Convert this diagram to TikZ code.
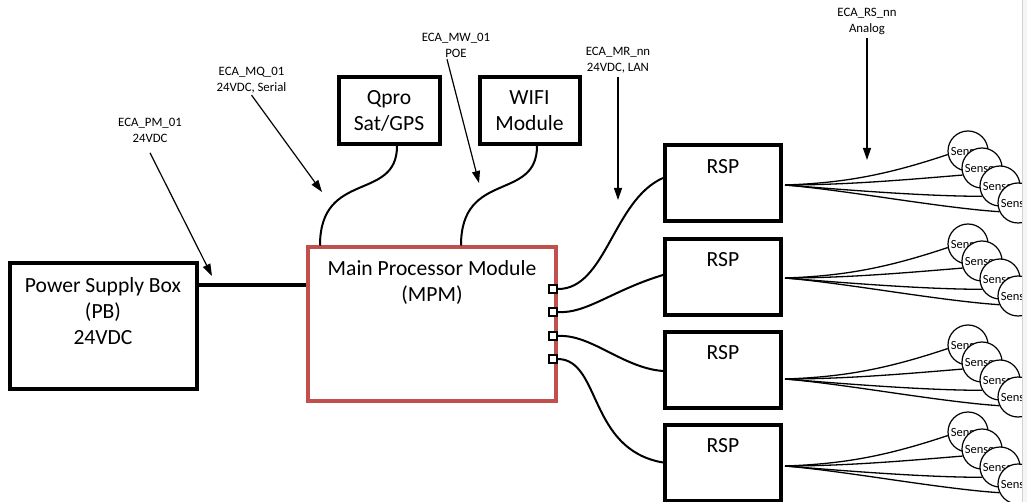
\documentclass[tikz,border=0pt]{standalone}
\usepackage{fontspec}
\setmainfont{Carlito}
\usetikzlibrary{arrows.meta,calc,backgrounds}
\definecolor{mpmred}{HTML}{C0504D}
\begin{document}
\begin{tikzpicture}[x=1pt,y=-1pt,
  box/.style={draw=black, line width=4pt, fill=white, inner sep=0pt},
  bigtxt/.style={font=\fontsize{21.6}{26}\selectfont, align=center, inner sep=0pt},
  tag/.style={font=\fontsize{12.8}{15.8}\selectfont, align=center, inner sep=0pt},
  sensor/.style={circle, draw, line width=1.2pt, fill=white, minimum size=40pt,
    inner sep=0pt, font=\fontsize{12.5}{14}\selectfont},
  port/.style={draw, line width=1.7pt, fill=white, minimum size=8.5pt, inner sep=0pt},
  wire/.style={line width=2pt},
  power/.style={line width=4pt},
  fan/.style={line width=1.3pt},
  callout/.style={line width=1.2pt, -{Triangle[length=12pt,width=8pt]}},
]
\useasboundingbox (0,0) rectangle (1027,502);

% main boxes
\node[box, minimum width=187.5pt, minimum height=126pt] (psb) at (103.25,326) {};
\node[bigtxt] (psbt) at (103,311) {Power Supply Box\\(PB)\\24VDC};

\node[box, draw=mpmred, minimum width=248pt, minimum height=153pt] (mpm) at (431.5,324) {};
\node[bigtxt, font=\fontsize{21.6}{25}\selectfont] (mpmt) at (432,282.5) {Main Processor Module\\(MPM)};

\node[box, bigtxt, draw, line width=4pt, minimum width=101pt, minimum height=67pt] (qpro) at (389,110.5) {Qpro\\Sat/GPS};
\node[box, bigtxt, draw, line width=4pt, minimum width=100pt, minimum height=67pt] (wifi) at (529.5,110.5) {WIFI\\Module};

% remote signal processors
\foreach \i/\cy in {1/183.5, 2/277, 3/370, 4/462.5}{
  \node[box, minimum width=116pt, minimum height=76pt] (r\i) at (723,\cy) {};
  \node[bigtxt] (r\i t) at ($(r\i.north)+(0,23)$) {RSP};
}

% MPM output ports
\foreach \i/\py in {1/289, 2/312, 3/336, 4/359}{
  \node[port] (p\i) at (553,\py) {};
}

% power feed
\coordinate (pwr) at (0,285);
\draw[power] (psb.east |- pwr) -- (mpm.west |- pwr);

% links from the modules into the MPM
\draw[wire] ([xshift=8pt]qpro.south) .. controls +(0,56) and +(0,-76) .. ([xshift=14.5pt]mpm.north west);
\draw[wire] ([xshift=7.5pt]wifi.south) .. controls +(0,56) and +(0,-76) .. ([xshift=155.5pt]mpm.north west);

% links from the ports to the RSPs
\draw[wire] (p1.east) .. controls +(48,0) and +(-50,22) .. ([yshift=5.5pt]r1.west);
\draw[wire] (p2.east) .. controls +(28,2) and +(-50,15) .. ([yshift=2pt]r2.west);
\draw[wire] (p3.east) .. controls +(33,-2) and +(-40,-3) .. ([yshift=-1pt]r3.west);
\draw[wire] (p4.east) .. controls +(43,1) and +(-75,-13) .. (r4.west);

% sensor fans
\foreach \i/\dy in {1/1.5, 2/1, 3/9, 4/3.5}{
  \coordinate (h\i) at ($(r\i.east)+(2,\dy)$);
  \node[sensor] (s\i a) at ($(h\i)+(183,-34)$) {Sensor};
  \node[sensor] (s\i b) at ($(h\i)+(197,-17)$) {Sensor};
  \node[sensor] (s\i c) at ($(h\i)+(215,1)$) {Sensor};
  \node[sensor] (s\i d) at ($(h\i)+(233,18)$) {Sensor};
  \begin{pgfonlayer}{background}
    \draw[fan] (h\i) .. controls +(60,-2) and +(-60,20) .. (s\i a.190);
    \draw[fan] (h\i) .. controls +(60,0) and +(-60,5) .. (s\i b.200);
    \draw[fan] (h\i) .. controls +(50,4) and +(-60,0) .. (s\i c.210);
    \draw[fan] (h\i) .. controls +(60,5) and +(-60,-4) .. (s\i d.205);
  \end{pgfonlayer}
}

% cable callouts
\node[tag] (pm) at (150,130.5) {ECA\_PM\_01\\24VDC};
\node[tag] (mq) at (251.5,80) {ECA\_MQ\_01\\24VDC, Serial};
\node[tag] (mw) at (456,45) {ECA\_MW\_01\\POE};
\node[tag] (mr) at (618,60.5) {ECA\_MR\_nn\\24VDC, LAN};
\node[tag] (rs) at (867,21.5) {ECA\_RS\_nn\\Analog};

\coordinate (pmtip) at (212,276);
\coordinate (mqtip) at (322,192);
\coordinate (mwtip) at (479,183);
\coordinate (mrtip) at (618,200);
\coordinate (rstip) at (867,160);

\draw[callout] ([yshift=-10pt]pm.south) -- (pmtip);
\draw[callout] ([yshift=-2pt]mq.south) -- (mqtip);
\draw[callout] ([xshift=-9pt,yshift=-2pt]mw.south) -- (mwtip);
\draw[callout] ([yshift=-3pt]mr.south) -- (mrtip);
\draw[callout] ([yshift=-3pt]rs.south) -- (rstip);

% page edge
\fill[gray!8] (1022,0) rectangle (1027,502);
\draw[gray!35, line width=0.8pt] (1022,0) -- (1022,502);
\end{tikzpicture}
\end{document}
